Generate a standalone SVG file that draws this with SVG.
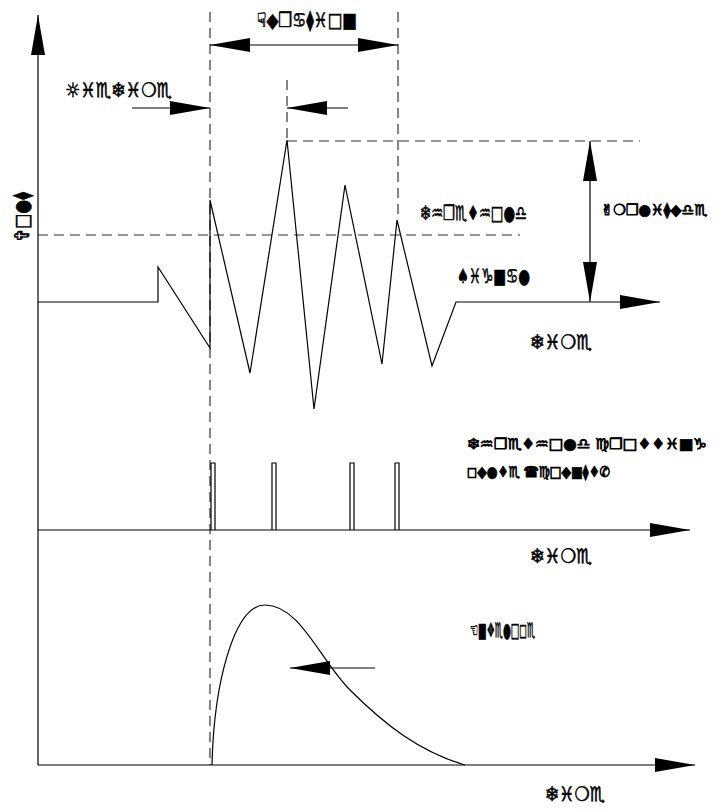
<svg xmlns="http://www.w3.org/2000/svg" width="720" height="811" viewBox="0 0 720 811">
<style>
.ln{fill:none;stroke:#000;stroke-width:1.2}
.ds{fill:none;stroke:#333;stroke-width:1.2;stroke-dasharray:10,6}
.t{font-family:"DejaVu Sans",sans-serif;font-size:20px;fill:#000;stroke:#000;stroke-width:0.6}
.s{font-size:15px;stroke-width:0.8}
</style>
<defs>
<marker id="ah" viewBox="0 0 40 14" refX="40" refY="7" markerWidth="40" markerHeight="14" markerUnits="userSpaceOnUse" orient="auto-start-reverse">
<path d="M0,0 L40,7 L0,14 z" fill="#000"/>
</marker>
</defs>
<rect width="720" height="811" fill="#fff"/>
<g id="guides">
<line class="ds" x1="210" y1="12" x2="210" y2="765"/>
<line class="ds" x1="398" y1="12" x2="398" y2="220"/>
<line class="ds" x1="287" y1="80" x2="287" y2="140"/>
<line class="ds" x1="287" y1="141" x2="640" y2="141"/>
<line class="ds" x1="38" y1="235" x2="520" y2="235"/>
</g>
<g id="axes">
<line class="ln" x1="38" y1="765" x2="38" y2="15" marker-end="url(#ah)"/>
<line class="ln" x1="38" y1="530" x2="690" y2="530" marker-end="url(#ah)"/>
<line class="ln" x1="38" y1="765" x2="695" y2="765" marker-end="url(#ah)"/>
</g>
<g id="signal">
<polyline class="ln" points="38,302 158,302 158,267 210,348 210,200 250,373 287,140 314,409 345,185 382,364 397,220 432,366 456,302 660,302" marker-end="url(#ah)"/>
</g>
<g id="pulses">
<path class="ln" d="M211,530 V463 H215 V530 M272,530 V463 H276 V530 M350,530 V463 H354 V530 M395,530 V463 H399 V530"/>
</g>
<g id="envelope">
<path class="ln" d="M212,765 C214,680 235,605 265,605 C300,605 320,660 350,690 C385,725 420,752 465,765"/>
</g>
<g id="connectors">
<line class="ln" x1="210" y1="45" x2="398" y2="45" marker-start="url(#ah)" marker-end="url(#ah)"/>
<line class="ln" x1="132" y1="108" x2="210" y2="108" marker-end="url(#ah)"/>
<line class="ln" x1="348" y1="108" x2="287" y2="108" marker-end="url(#ah)"/>
<line class="ln" x1="590" y1="141" x2="590" y2="302" marker-start="url(#ah)" marker-end="url(#ah)"/>
<line class="ln" x1="375" y1="668" x2="290" y2="668" marker-end="url(#ah)"/>
</g>
<g id="label-duration"><text class="t" x="257" y="27" textLength="100" lengthAdjust="spacingAndGlyphs">☟◆❒♋⧫♓□■</text></g>
<g id="label-risetime"><text class="t" x="65" y="97" textLength="107" lengthAdjust="spacingAndGlyphs">☼♓♏❄♓❍♏</text></g>
<g id="label-threshold"><text class="t" x="420" y="220" textLength="107" lengthAdjust="spacingAndGlyphs">❄♒❒♏♦♒□●♎</text></g>
<g id="label-amplitude"><text class="t s" x="601" y="215" textLength="106" lengthAdjust="spacingAndGlyphs">✌❍❐●♓⧫◆♎♏</text></g>
<g id="label-signal"><text class="t" x="457" y="283" textLength="73" lengthAdjust="spacingAndGlyphs">♠♓♑■♋●</text></g>
<g id="label-yaxis"><text class="t" transform="translate(29,242) rotate(-90)" x="0" y="0" textLength="50" lengthAdjust="spacingAndGlyphs">✞□●⧫</text></g>
<g id="label-time1"><text class="t" x="530" y="349" textLength="62" lengthAdjust="spacingAndGlyphs">❄♓❍♏</text></g>
<g id="label-time2"><text class="t" x="530" y="563" textLength="62" lengthAdjust="spacingAndGlyphs">❄♓❍♏</text></g>
<g id="label-time3"><text class="t" x="545" y="801" textLength="60" lengthAdjust="spacingAndGlyphs">❄♓❍♏</text></g>
<g id="label-counts">
<text class="t s" x="467" y="449" textLength="240" lengthAdjust="spacingAndGlyphs">❄♒❒♏♦♒□●♎ ♍❒□♦♦♓■♑</text>
<text class="t s" x="467" y="477" textLength="143" lengthAdjust="spacingAndGlyphs">◻◆●♦♏ ☎♍□◆■⧫♦✆</text>
</g>
<g id="label-envelope"><text class="t" x="470" y="637" textLength="65" lengthAdjust="spacingAndGlyphs">☜■❖♏●□◻♏</text></g>
</svg>
